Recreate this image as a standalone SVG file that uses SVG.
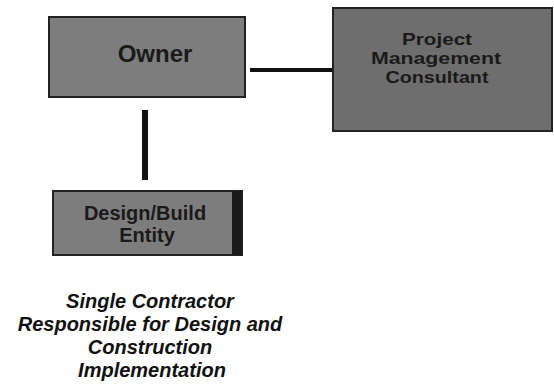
<svg xmlns="http://www.w3.org/2000/svg" width="554" height="388" viewBox="0 0 554 388">
<style>
.box{fill:#7d7d7d;stroke:#222;stroke-width:2}
.lbl{font-family:"Liberation Sans",Arial,sans-serif;font-weight:bold;fill:#1a1a1a;text-anchor:middle}
.note{font-family:"Liberation Sans",Arial,sans-serif;font-weight:bold;font-style:italic;font-size:20px;fill:#111;text-anchor:middle}
.conn{stroke:#111;fill:none}
</style>
<rect width="554" height="388" fill="#fff"/>
<g id="connectors">
<line class="conn" x1="250" y1="70" x2="333" y2="70" stroke-width="4"/>
<line class="conn" x1="145" y1="110" x2="145" y2="180" stroke-width="6"/>
</g>
<g id="owner">
<rect class="box" x="49" y="17" width="196" height="80"/>
<text class="lbl" x="155" y="62" font-size="24">Owner</text>
</g>
<g id="pmc">
<rect class="box" x="333" y="8" width="219" height="123" style="fill:#6e6e6e"/>
<text class="lbl" x="437" y="45" font-size="17" textLength="70" lengthAdjust="spacingAndGlyphs">Project</text>
<text class="lbl" x="436" y="64" font-size="17" textLength="130" lengthAdjust="spacingAndGlyphs">Management</text>
<text class="lbl" x="437" y="83" font-size="17" textLength="103" lengthAdjust="spacingAndGlyphs">Consultant</text>
</g>
<g id="designbuild">
<rect class="box" x="53" y="191" width="189" height="64"/>
<rect x="232" y="191" width="10" height="64" fill="#1a1a1a"/>
<text class="lbl" x="145" y="220" font-size="20">Design/Build</text>
<text class="lbl" x="147" y="242" font-size="20">Entity</text>
</g>
<g id="caption">
<text class="note" x="150" y="308">Single Contractor</text>
<text class="note" x="150" y="331">Responsible for Design and</text>
<text class="note" x="150" y="354">Construction</text>
<text class="note" x="152" y="377">Implementation</text>
</g>
</svg>
